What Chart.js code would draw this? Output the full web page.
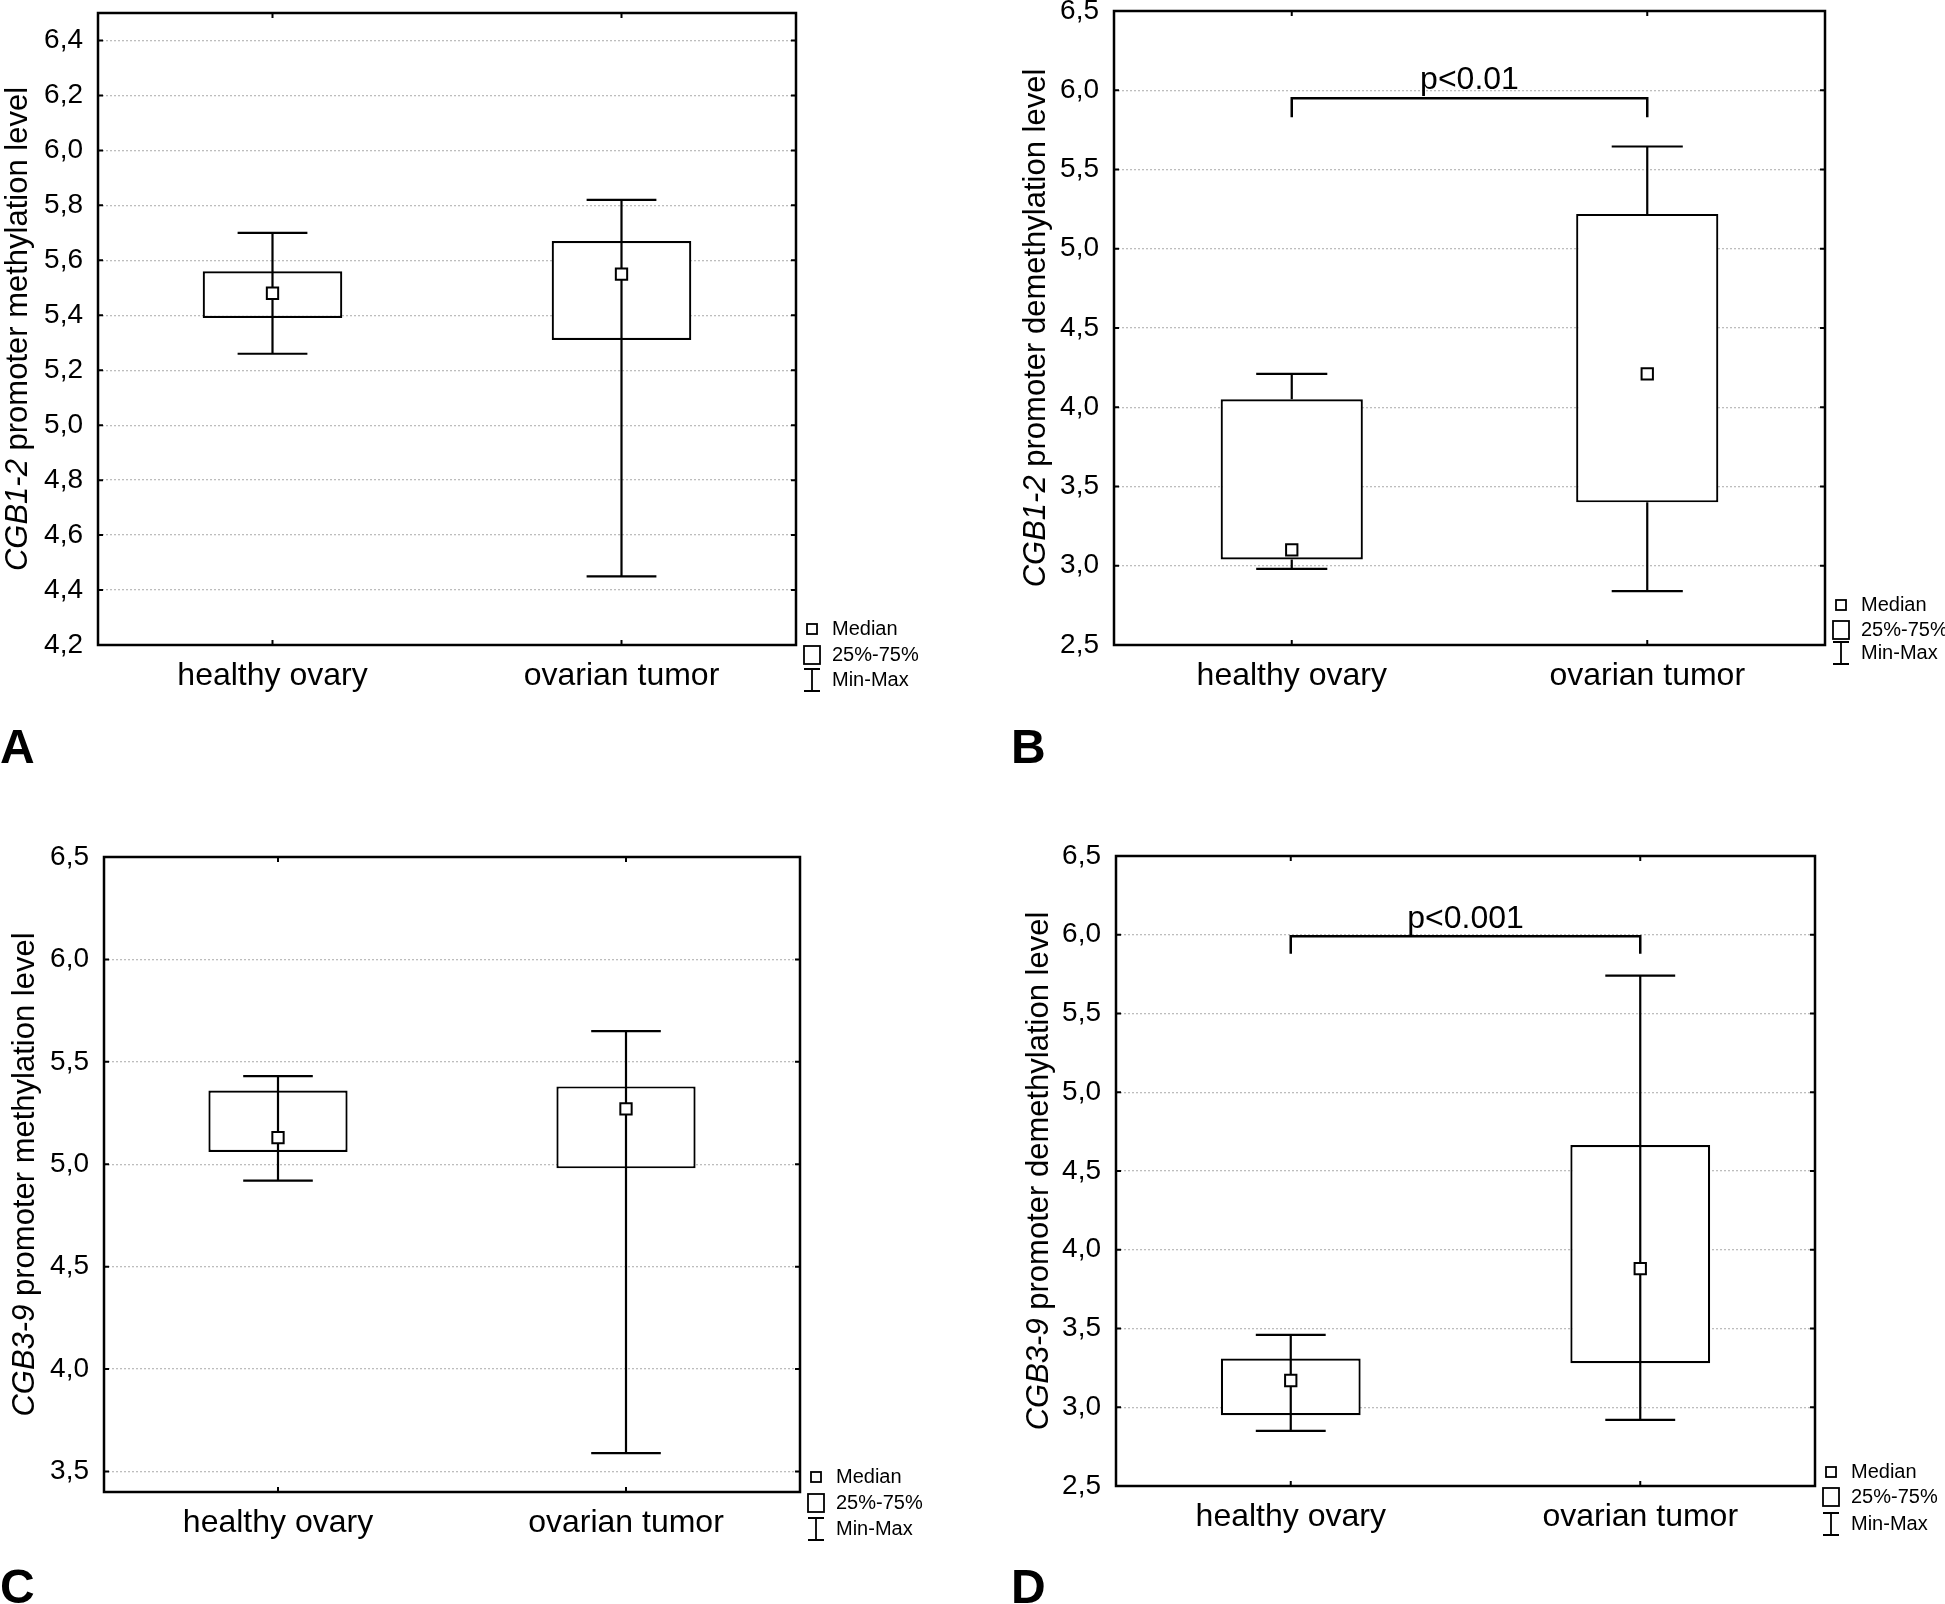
<!DOCTYPE html>
<html>
<head>
<meta charset="utf-8">
<script src="https://cdn.jsdelivr.net/npm/chart.js@4.4.1/dist/chart.umd.min.js"></script>
<style>
  html, body { margin: 0; padding: 0; background: #fff; }
  body { width: 1945px; height: 1604px; position: relative; overflow: hidden; }
  canvas { position: absolute; display: block; }
</style>
</head>
<body>
<canvas id="chartA" width="972" height="802" style="left:0;top:0"></canvas>
<canvas id="chartB" width="973" height="802" style="left:972px;top:0"></canvas>
<canvas id="chartC" width="972" height="802" style="left:0;top:802px"></canvas>
<canvas id="chartD" width="973" height="802" style="left:972px;top:802px"></canvas>
<script>
var FONT = "'Liberation Sans', Arial, sans-serif";

var categories = ['healthy ovary', 'ovarian tumor'];

// A: CGB1-2 methylation
var minA = [5.26, 4.45];
var q1A  = [5.39, 5.31];
var medA = [5.48, 5.55];
var q3A  = [5.56, 5.67];
var maxA = [5.70, 5.82];
var axisA = [4.2, 6.5, 0.2];   // min, max, step

// B: CGB1-2 demethylation
var minB = [2.98, 2.84];
var q1B  = [3.04, 3.40];
var medB = [3.10, 4.21];
var q3B  = [4.05, 5.22];
var maxB = [4.21, 5.645];
var axisB = [2.5, 6.5, 0.5];
var bracketB = [5.95, 5.83, 6.01];  // top, leg end, text baseline

// C: CGB3-9 methylation
var minC = [4.92, 3.59];
var q1C  = [5.06, 4.98];
var medC = [5.13, 5.27];
var q3C  = [5.36, 5.38];
var maxC = [5.43, 5.65];
var axisC = [3.4, 6.5, 0.5];

// D: CGB3-9 demethylation
var minD = [2.85, 2.92];
var q1D  = [2.95, 3.28];
var medD = [3.17, 3.88];
var q3D  = [3.31, 4.665];
var maxD = [3.46, 5.74];
var axisD = [2.5, 6.5, 0.5];
var bracketD = [5.99, 5.88, 6.04];

var commaFmt = function (v) { return v.toFixed(1).replace('.', ','); };

var boxExtras = {
  id: 'boxExtras',
  afterDatasetDraw: function (chart, args, o) {
    if (args.index !== 0) return;
    var ctx = chart.ctx, x = chart.scales.x, y = chart.scales.y;
    var meta = chart.getDatasetMeta(0);
    ctx.save();
    ctx.strokeStyle = '#000';
    ctx.lineWidth = 2.2;
    for (var i = 0; i < o.min.length; i++) {
      var px = x.getPixelForValue(i);
      var half = meta.data[i].width / 4;
      var yMin = y.getPixelForValue(o.min[i]);
      var yMax = y.getPixelForValue(o.max[i]);
      var yQ1 = y.getPixelForValue(o.q1[i]);
      var yQ3 = y.getPixelForValue(o.q3[i]);
      ctx.beginPath();
      if (o.through) {
        ctx.moveTo(px, yMax); ctx.lineTo(px, yMin);
      } else {
        ctx.moveTo(px, yMax); ctx.lineTo(px, yQ3);
        ctx.moveTo(px, yQ1); ctx.lineTo(px, yMin);
      }
      ctx.moveTo(px - half, yMax); ctx.lineTo(px + half, yMax);
      ctx.moveTo(px - half, yMin); ctx.lineTo(px + half, yMin);
      ctx.stroke();
    }
    ctx.restore();
  },
  afterDraw: function (chart, args, o) {
    var ctx = chart.ctx, a = chart.chartArea, x = chart.scales.x, y = chart.scales.y;
    ctx.save();
    // frame
    ctx.strokeStyle = '#000';
    ctx.lineWidth = 2.5;
    ctx.strokeRect(a.left, a.top, a.right - a.left, a.bottom - a.top);
    // inner ticks
    ctx.lineWidth = 2;
    ctx.beginPath();
    y.ticks.forEach(function (t) {
      var py = y.getPixelForValue(t.value);
      ctx.moveTo(a.left, py); ctx.lineTo(a.left + 5, py);
      ctx.moveTo(a.right, py); ctx.lineTo(a.right - 5, py);
    });
    for (var i = 0; i < categories.length; i++) {
      var px = x.getPixelForValue(i);
      ctx.moveTo(px, a.top); ctx.lineTo(px, a.top + 5);
      ctx.moveTo(px, a.bottom); ctx.lineTo(px, a.bottom - 5);
    }
    ctx.stroke();

    // significance bracket
    if (o.bracket) {
      var x0 = x.getPixelForValue(0), x1 = x.getPixelForValue(1);
      var yt = y.getPixelForValue(o.bracket[0]), yl = y.getPixelForValue(o.bracket[1]);
      ctx.lineWidth = 2.5;
      ctx.beginPath();
      ctx.moveTo(x0, yl); ctx.lineTo(x0, yt); ctx.lineTo(x1, yt); ctx.lineTo(x1, yl);
      ctx.stroke();
      ctx.fillStyle = '#000';
      ctx.font = '32px ' + FONT;
      ctx.textAlign = 'center';
      ctx.textBaseline = 'alphabetic';
      ctx.fillText(o.pText, (x0 + x1) / 2, y.getPixelForValue(o.bracket[2]));
    }

    // y axis title, gene name in italics
    ctx.translate(o.titleX, (a.top + a.bottom) / 2);
    ctx.rotate(-Math.PI / 2);
    ctx.fillStyle = '#000';
    ctx.textBaseline = 'middle';
    ctx.textAlign = 'left';
    ctx.font = 'italic 31px ' + FONT;
    var w1 = ctx.measureText(o.gene).width;
    ctx.font = '31px ' + FONT;
    var w2 = ctx.measureText(o.titleRest).width;
    var s = -(w1 + w2) / 2;
    ctx.font = 'italic 31px ' + FONT;
    ctx.fillText(o.gene, s, 0);
    ctx.font = '31px ' + FONT;
    ctx.fillText(o.titleRest, s + w1, 0);
    ctx.setTransform(1, 0, 0, 1, 0, 0);

    // legend
    var lx = a.right + o.legendDx, rows = o.legendRows;
    ctx.lineWidth = 1.8;
    ctx.fillStyle = '#fff';
    ctx.fillRect(lx - 5, a.bottom + rows[0] - 5, 10, 10);
    ctx.strokeRect(lx - 5, a.bottom + rows[0] - 5, 10, 10);
    ctx.strokeRect(lx - 8, a.bottom + rows[1] - 9, 16, 18);
    ctx.beginPath();
    ctx.moveTo(lx, a.bottom + rows[2] - 11); ctx.lineTo(lx, a.bottom + rows[2] + 11);
    ctx.moveTo(lx - 8, a.bottom + rows[2] - 11); ctx.lineTo(lx + 8, a.bottom + rows[2] - 11);
    ctx.moveTo(lx - 8, a.bottom + rows[2] + 11); ctx.lineTo(lx + 8, a.bottom + rows[2] + 11);
    ctx.stroke();
    ctx.fillStyle = '#000';
    ctx.font = '20px ' + FONT;
    ctx.textAlign = 'left';
    ctx.textBaseline = 'middle';
    ctx.fillText('Median', lx + 20, a.bottom + rows[0]);
    ctx.fillText('25%-75%', lx + 20, a.bottom + rows[1]);
    ctx.fillText('Min-Max', lx + 20, a.bottom + rows[2]);

    // panel letter
    ctx.font = 'bold 48px ' + FONT;
    ctx.textBaseline = 'alphabetic';
    ctx.fillText(o.letter, o.letterPos[0], o.letterPos[1]);
    ctx.restore();
  }
};

function makePanel(id, d, lay) {
  var boxes = d.q1.map(function (v, i) { return [v, d.q3[i]]; });
  return new Chart(document.getElementById(id), {
    type: 'bar',
    data: {
      labels: categories,
      datasets: [{
        type: 'bar',
        data: boxes,
        backgroundColor: '#fff',
        borderColor: '#000',
        borderWidth: 2.2,
        borderSkipped: false,
        barPercentage: 0.4,
        categoryPercentage: 1,
        order: 2
      }, {
        type: 'line',
        data: d.med,
        showLine: false,
        pointStyle: 'rect',
        pointRadius: 8,
        pointBackgroundColor: '#fff',
        pointBorderColor: '#000',
        pointBorderWidth: 2,
        order: 1
      }]
    },
    options: {
      responsive: false,
      animation: false,
      events: [],
      layout: { padding: { left: 0, top: lay.top, right: lay.right, bottom: lay.bottom } },
      plugins: {
        legend: { display: false },
        tooltip: { enabled: false },
        boxExtras: {
          min: d.min, max: d.max, q1: d.q1, q3: d.q3, through: d.through,
          bracket: d.bracket, pText: d.pText,
          gene: d.gene, titleRest: d.titleRest, titleX: lay.titleX,
          legendDx: 16, legendRows: lay.legendRows,
          letter: d.letter, letterPos: lay.letterPos
        }
      },
      scales: {
        x: {
          type: 'category',
          grid: { display: false },
          border: { display: false },
          ticks: { color: '#000', font: { family: FONT, size: 32 }, padding: 4, maxRotation: 0 },
          afterFit: function (s) { s.height = 60; s.paddingLeft = 0; s.paddingRight = 0; }
        },
        y: {
          min: d.axis[0], max: d.axis[1],
          grid: { color: '#bdbdbd', lineWidth: 1.3, drawTicks: false },
          border: { display: false, dash: [2, 2] },
          ticks: { stepSize: d.axis[2], includeBounds: false, color: '#000', padding: 15,
                   font: { family: FONT, size: 28 }, callback: commaFmt },
          afterFit: function (s) { s.width = lay.left; s.paddingTop = 0; s.paddingBottom = 0; }
        }
      }
    },
    plugins: [boxExtras]
  });
}

makePanel('chartA', {
  min: minA, max: maxA, q1: q1A, q3: q3A, med: medA, axis: axisA, through: true,
  gene: 'CGB1-2', titleRest: ' promoter methylation level', letter: 'A'
}, { left: 98, top: 13, right: 176, bottom: 97, titleX: 18, legendRows: [-16, 10, 35], letterPos: [0, 763] });

makePanel('chartB', {
  min: minB, max: maxB, q1: q1B, q3: q3B, med: medB, axis: axisB, through: false,
  bracket: bracketB, pText: 'p<0.01',
  gene: 'CGB1-2', titleRest: ' promoter demethylation level', letter: 'B'
}, { left: 142, top: 11, right: 120, bottom: 97, titleX: 64, legendRows: [-40, -15, 8], letterPos: [39, 763] });

makePanel('chartC', {
  min: minC, max: maxC, q1: q1C, q3: q3C, med: medC, axis: axisC, through: true,
  gene: 'CGB3-9', titleRest: ' promoter methylation level', letter: 'C'
}, { left: 104, top: 55, right: 172, bottom: 52, titleX: 25, legendRows: [-15, 11, 37], letterPos: [0, 801] });

makePanel('chartD', {
  min: minD, max: maxD, q1: q1D, q3: q3D, med: medD, axis: axisD, through: true,
  bracket: bracketD, pText: 'p<0.001',
  gene: 'CGB3-9', titleRest: ' promoter demethylation level', letter: 'D'
}, { left: 144, top: 54, right: 130, bottom: 58, titleX: 67, legendRows: [-14, 11, 38], letterPos: [39, 801] });
</script>
</body>
</html>
